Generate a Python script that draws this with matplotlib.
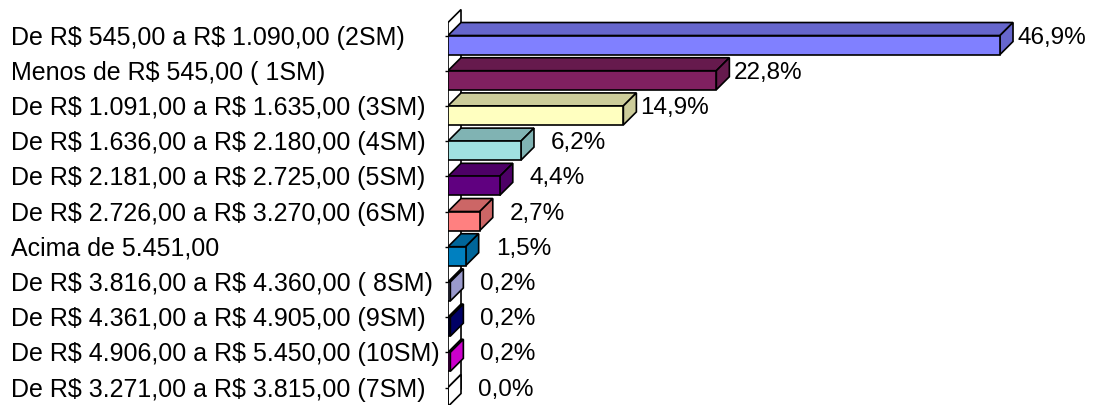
import matplotlib as mpl
mpl.use('Agg')
import matplotlib.pyplot as plt
from matplotlib.patches import Polygon
import matplotlib.transforms as mtransforms

plt.rcParams['font.family'] = ['Liberation Sans', 'DejaVu Sans']
plt.rcParams['text.parse_math'] = False

categorias = [
    "De R$ 545,00 a R$ 1.090,00 (2SM)",
    "Menos de R$ 545,00 ( 1SM)",
    "De R$ 1.091,00 a R$ 1.635,00 (3SM)",
    "De R$ 1.636,00 a R$ 2.180,00 (4SM)",
    "De R$ 2.181,00 a R$ 2.725,00 (5SM)",
    "De R$ 2.726,00 a R$ 3.270,00 (6SM)",
    "Acima de 5.451,00",
    "De R$ 3.816,00 a R$ 4.360,00 ( 8SM)",
    "De R$ 4.361,00 a R$ 4.905,00 (9SM)",
    "De R$ 4.906,00 a R$ 5.450,00 (10SM)",
    "De R$ 3.271,00 a R$ 3.815,00 (7SM)",
]
valores = [46.9, 22.8, 14.9, 6.2, 4.4, 2.7, 1.5, 0.2, 0.2, 0.2, 0.0]
cores = ["#8080FF", "#802060", "#FFFFC0", "#A0E0E0", "#600080", "#FF8080",
         "#0080C0", "#C0C0FF", "#000080", "#FF00FF", "#FFFFFF"]


def escurece(cor, f=0.8):
    r, g, b = mpl.colors.to_rgb(cor)
    if cor.upper() == "#FFFFFF":
        return (1, 1, 1)
    return (r * f, g * f, b * f)


fig = plt.figure(figsize=(10.96, 4.06), dpi=100)
# eixo: x=0 em 448 px, 11.77 px por ponto percentual
ax = fig.add_axes([448 / 1096, 0, 588.5 / 1096, 1])
ax.set_xlim(0, 50)
ax.set_ylim(10.227, -1.307)
for s in ax.spines.values():
    s.set_visible(False)
ax.xaxis.set_visible(False)

h = 0.54      # altura da face frontal
dx = 1.105    # profundidade em x
dy = 0.369    # profundidade em y

# parede
ytop = -0.639
ybot = 10.14
parede = Polygon([(0, ytop), (dx, ytop - dy), (dx, ybot - dy), (0, ybot)],
                 closed=True, facecolor='white', edgecolor='black', lw=1.2, zorder=1)
ax.add_patch(parede)

n = len(valores)
for i, (v, c) in enumerate(zip(valores, cores)):
    y0 = i - h / 2
    y1 = i + h / 2
    esc = escurece(c)
    topo = Polygon([(0, y0), (dx, y0 - dy), (v + dx, y0 - dy), (v, y0)],
                   closed=True, facecolor=esc, edgecolor='black', lw=1.2, zorder=2)
    lado = Polygon([(v, y0), (v + dx, y0 - dy), (v + dx, y1 - dy), (v, y1)],
                   closed=True, facecolor=esc, edgecolor='black', lw=1.2, zorder=2)
    ax.add_patch(topo)
    ax.add_patch(lado)

ax.barh(range(n), valores, height=h, color=cores, edgecolor='black', lw=1.2, zorder=3)

# marcas do eixo
ax.set_yticks([i - h / 2 for i in range(n)])
ax.set_yticklabels([])
ax.tick_params(axis='y', length=2.5, width=1, direction='out', left=True)

trans = mtransforms.blended_transform_factory(fig.transFigure, ax.transData)
for i, cat in enumerate(categorias):
    ax.text(11 / 1096, i - 0.24, cat, transform=trans, ha='left', va='center',
            fontsize=18, color='black')

for i, v in enumerate(valores):
    txt = f"{v:.1f}".replace('.', ',') + '%'
    off = 17 if v >= 10 else 30
    ax.annotate(txt, xy=(v, i - 0.24), xytext=(off, 0), textcoords='offset pixels',
                ha='left', va='center', fontsize=17.5, color='black', zorder=4)

plt.savefig('out.png', dpi=100)
